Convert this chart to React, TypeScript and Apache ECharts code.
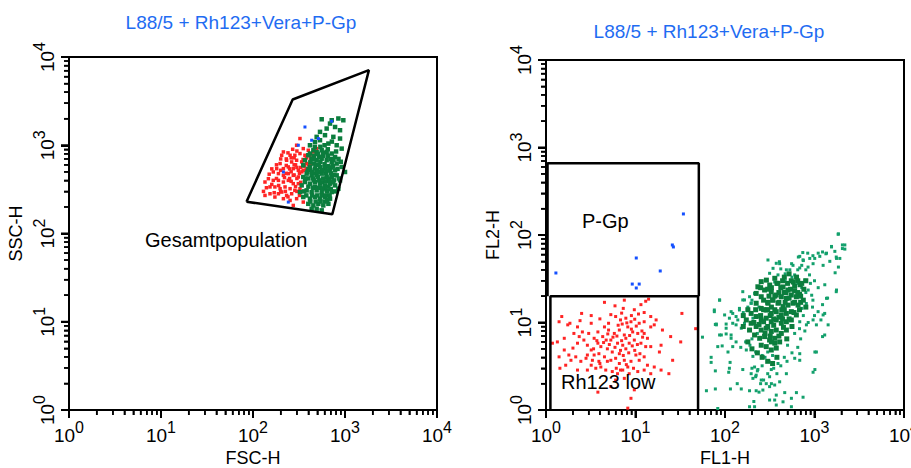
import React, { useEffect, useRef } from "react";
import * as echarts from "echarts";

const FONT = '"Liberation Sans", Arial, Helvetica, sans-serif';

// Titles / axis names / annotations
const panelTitle = "L88/5 + Rh123+Vera+P-Gp";
const leftAxisNames = { x: "FSC-H", y: "SSC-H" };
const rightAxisNames = { x: "FL1-H", y: "FL2-H" };
const gateLabels = { total: "Gesamtpopulation", pgp: "P-Gp", low: "Rh123 low" };

// Axis tick labels (decade exponents) and tick positions
const decadeExponents = ["0", "1", "2", "3", "4"];
const majorTickValues = [1, 10, 100, 1000, 10000];
const minorTickValues = [2, 3, 4, 5, 6, 7, 8, 9, 20, 30, 40, 50, 60, 70, 80, 90, 200, 300, 400, 500, 600, 700, 800, 900, 2000, 3000, 4000, 5000, 6000, 7000, 8000, 9000];

// Left panel: gate polygon (FSC-H, SSC-H)
const leftGate = [[85, 229], [270, 3300], [1820, 7100], [728, 165], [85, 229]];

// Right panel: gate rectangles (FL1-H, FL2-H)
const pgpGate = [[1.04, 20], [1.04, 660], [51, 660], [51, 20]];
const lowGate = [[1.12, 1], [1.12, 20], [50, 20], [50, 1]];

// Left panel events
const leftRed = [
  [324, 1191], [298, 1000], [352, 916], [399, 877], [453, 840], [492, 916], [253, 770], [285, 770], [324, 805], [367, 770],
  [416, 770], [205, 770], [214, 840], [232, 676], [263, 647], [298, 676], [338, 647], [383, 620], [434, 620], [197, 620],
  [181, 543], [214, 543], [242, 568], [274, 543], [311, 520], [352, 520], [166, 498], [189, 477], [214, 456], [242, 477],
  [274, 456], [311, 437], [352, 437], [147, 418], [166, 400], [189, 400], [214, 383], [242, 400], [274, 367], [311, 367],
  [135, 383], [153, 337], [173, 337], [197, 322], [223, 337], [253, 322], [285, 308], [324, 322], [135, 270], [153, 282],
  [173, 259], [205, 295], [232, 270], [263, 282], [298, 248], [253, 237], [274, 208], [352, 227], [214, 248], [189, 282],
  [230, 590], [260, 500], [290, 600], [330, 560], [300, 420], [250, 420], [225, 300], [330, 380], [350, 690], [280, 720],
  [230, 700], [260, 720], [280, 600], [300, 560], [320, 480], [340, 500], [360, 580], [380, 540], [400, 600], [420, 700],
  [380, 720], [300, 860], [270, 900], [240, 820], [200, 700], [180, 600], [160, 540], [150, 470], [160, 360], [190, 350],
  [220, 430], [260, 390], [290, 340], [320, 270], [300, 300], [180, 420], [200, 300], [240, 260], [170, 290], [140, 330],
  [130, 300], [280, 460], [250, 540], [200, 520], [230, 480]
];
const leftGreen = [
  [558, 1970], [717, 1920], [847, 2010], [959, 1920], [687, 1760], [780, 1610], [883, 1480], [632, 1546], [535, 1418], [606, 1300],
  [747, 1245], [883, 1191], [472, 1091], [535, 1140], [660, 1045], [812, 1000], [920, 916], [492, 1245], [416, 1000], [453, 877],
  [399, 770], [367, 676], [352, 593], [492, 840], [558, 877], [632, 840], [717, 805], [780, 737], [434, 705], [492, 676],
  [558, 705], [632, 676], [717, 647], [812, 620], [416, 568], [472, 543], [535, 568], [606, 543], [687, 520], [780, 520],
  [383, 477], [434, 456], [492, 456], [558, 477], [632, 437], [717, 437], [812, 456], [367, 383], [416, 367], [472, 383],
  [535, 367], [606, 351], [687, 367], [780, 351], [383, 308], [434, 295], [492, 308], [558, 295], [632, 308], [717, 295],
  [416, 248], [472, 259], [535, 248], [606, 259], [687, 248], [352, 259], [399, 217], [453, 208], [513, 217], [581, 208],
  [660, 217], [324, 295], [338, 351], [352, 437], [492, 191], [558, 183], [434, 191], [883, 400], [847, 322], [920, 568],
  [1000, 498], [416, 805], [520, 600], [600, 610], [460, 620], [520, 400], [580, 420], [450, 420], [660, 420], [700, 560],
  [560, 520], [500, 520], [620, 480], [470, 480], [420, 520], [540, 330], [470, 340], [600, 330], [660, 340], [760, 400],
  [460, 760], [520, 740], [580, 760], [650, 760], [700, 700], [750, 680], [420, 640], [480, 600], [540, 650], [600, 560],
  [660, 580], [740, 580], [400, 540], [440, 500], [510, 500], [570, 520], [640, 520], [700, 480], [760, 460], [400, 420],
  [460, 400], [510, 440], [560, 380], [620, 390], [680, 400], [740, 380], [400, 340], [450, 330], [510, 330], [570, 320],
  [640, 300], [700, 320], [380, 270], [440, 270], [500, 270], [560, 270], [620, 270], [680, 270], [420, 230], [480, 230],
  [540, 230], [600, 230], [640, 240], [360, 300], [370, 420], [390, 500], [450, 700], [510, 800], [580, 820], [650, 900],
  [720, 1100], [600, 1000], [540, 960], [470, 960], [800, 850], [850, 700], [900, 650], [830, 540], [860, 420], [780, 300]
];
const leftBlue = [[367, 1610], [717, 1870], [434, 1140], [311, 1000], [214, 498], [242, 227], [513, 1191]];

// Right panel events
const rightRed = [
  [4.5, 17], [5.9, 15.5], [7.5, 18], [9.7, 14], [11.5, 16], [13, 17.5], [14, 18.5], [7.3, 14.5], [2.5, 12.7], [3.2, 9.8],
  [1.4, 10.2], [1.5, 11.7], [1.75, 9.4], [1.85, 9.8], [33, 12.7], [47, 8.5], [5.3, 12.3], [6, 11.7], [6.8, 10.7], [7.8, 11.2],
  [8.9, 10.2], [9.8, 10.9], [11, 9.8], [12.5, 10.2], [14.8, 8.9], [16.2, 9.4], [4.5, 8.9], [3.8, 7.8], [5, 8.2], [5.8, 7.5],
  [6.6, 8.2], [7.5, 7.2], [8.2, 8.9], [9.3, 7.8], [10.6, 7.5], [12.5, 7.5], [13.6, 6.6], [4.3, 6.9], [4.7, 6.3], [5.3, 6.3],
  [6.3, 5.8], [7.2, 5.5], [7.8, 5.0], [8.5, 5.8], [9.7, 6.3], [11.5, 5.8], [13, 5.3], [14.8, 5.3], [19.3, 5.5], [18.5, 4.6],
  [24.7, 6.9], [32, 6.0], [26, 3.7], [1.34, 6.0], [1.18, 5.8], [1.6, 4.85], [2.0, 5.1], [2.25, 5.8], [2.35, 6.9], [2.65, 6.3],
  [2.9, 5.5], [3.2, 4.85], [3.45, 4.25], [3.9, 4.4], [4.5, 4.05], [4.85, 3.6], [5.3, 3.7], [6.0, 3.9], [6.6, 3.4], [7.5, 3.7],
  [8.2, 3.1], [8.9, 3.6], [10.1, 4.25], [11, 3.7], [12.5, 4.05], [13.6, 3.25], [16.2, 3.1], [19.3, 2.86], [23.6, 2.6], [1.9, 3.7],
  [2.15, 4.05], [2.45, 3.6], [2.8, 3.9], [3.2, 3.25], [3.6, 3.0], [4.1, 3.1], [4.65, 2.86], [5.5, 2.75], [6.3, 2.6], [7.2, 2.86],
  [1.43, 3.0], [1.66, 3.25], [2.9, 2.86], [7.5, 2.3], [6.0, 2.2], [9.7, 1.7], [8.9, 1.36], [8.2, 1.05], [3.8, 1.6], [5.3, 1.85],
  [2.55, 7.8], [3.0, 7.5], [3.45, 6.6], [3.8, 5.8], [4.1, 5.3], [4.85, 5.0], [5.5, 4.6], [6.6, 4.4], [5.0, 9.8], [14.8, 11.7],
  [17, 10.7], [20, 8.2], [2.05, 7.5], [2.25, 8.9], [1.6, 6.6], [2.9, 4.25], [3.3, 3.7], [3.9, 3.6], [6.8, 2.86], [8.5, 2.6],
  [10.6, 2.75], [12.5, 2.86], [14.8, 2.6], [2.25, 2.86], [1.8, 4.25], [1.4, 4.05], [5.6, 6.8], [6.2, 7.0], [7.0, 6.2], [7.8, 6.6],
  [8.6, 7.1], [9.2, 5.4], [6.8, 4.8], [5.9, 5.2], [7.3, 4.2], [8.4, 4.5], [9.8, 4.8], [10.5, 5.6], [5.1, 5.6], [4.4, 5.9],
  [6.4, 9.3], [7.1, 9.6], [8.0, 9.9], [9.0, 8.4], [10.2, 9.1], [11.8, 8.0], [12.0, 6.8], [11.2, 4.4], [6.1, 3.0], [7.9, 3.3],
  [9.5, 3.0], [4.0, 3.4], [3.4, 5.0], [3.7, 6.2], [4.9, 7.4], [9.0, 12.0], [10.8, 12.5], [7.0, 12.8], [12.5, 13.0], [4.0, 11.0],
  [3.2, 12.0], [2.4, 10.5]
];
const rightGreenCore = [
  [223, 21.5], [254, 19.7], [277, 23.5], [329, 22.5], [374, 20.6], [426, 19.7], [485, 18.9], [551, 20.6], [627, 19.7], [302, 16.6],
  [344, 18.1], [391, 16.6], [445, 15.2], [506, 15.8], [575, 16.6], [655, 15.8], [223, 16.6], [254, 14.5], [289, 13.9], [329, 12.7],
  [374, 13.3], [426, 12.2], [485, 12.7], [551, 13.3], [627, 12.2], [196, 12.7], [223, 11.7], [254, 10.7], [289, 11.2], [329, 10.2],
  [374, 10.7], [426, 9.8], [485, 10.2], [551, 10.7], [173, 10.7], [196, 9.8], [223, 9.0], [254, 8.2], [289, 8.6], [329, 7.9],
  [374, 8.2], [426, 7.5], [485, 8.2], [188, 8.2], [214, 7.2], [244, 6.6], [277, 6.9], [315, 6.3], [359, 6.6], [408, 6.0],
  [289, 5.3], [329, 4.85], [374, 5.1], [254, 5.5], [300, 14], [320, 12], [350, 11], [360, 14], [340, 18], [400, 22],
  [420, 25], [460, 22], [500, 28], [540, 24], [380, 28], [330, 25], [310, 20], [270, 18], [250, 12], [240, 9.5],
  [270, 10.2], [300, 9.0], [320, 7.0], [350, 9.3], [400, 11.5], [430, 14], [470, 17], [520, 19], [600, 23], [680, 21],
  [700, 17], [590, 13], [520, 11], [450, 8.8], [400, 7.0], [360, 5.8], [290, 30.5], [316, 26.8], [360, 32], [390, 28],
  [445, 25.5], [505, 23.5], [580, 29], [630, 33], [690, 27], [233, 25.6], [254, 29.3], [550, 30], [600, 26], [480, 22],
  [440, 30], [650, 22], [700, 20], [250, 25], [220, 14], [210, 10], [280, 7.5], [330, 6], [440, 11], [460, 14],
  [400, 17], [360, 20], [330, 15], [300, 17], [270, 14], [600, 17], [560, 9], [490, 6.5], [180, 6], [200, 5],
  [230, 4.5], [260, 4], [300, 3.6], [340, 3.4], [380, 4], [300, 24], [650, 30], [720, 28], [760, 24], [800, 30],
  [520, 36], [460, 33], [160, 9], [160, 12], [180, 14], [750, 18], [800, 15], [680, 14]
];
const rightGreenSparse = [
  [1850, 103], [2050, 77], [2050, 70], [1550, 73], [1230, 64], [1340, 61], [1100, 62], [960, 58], [840, 62], [740, 63],
  [660, 56], [750, 51], [1750, 56], [1850, 43], [1700, 37], [1750, 22.5], [1400, 19], [1230, 16], [1300, 12.7], [1180, 10.7],
  [1050, 9.4], [1300, 7.2], [1230, 6.9], [1010, 4.6], [1010, 2.9], [405, 49.5], [420, 41], [530, 40], [555, 47], [470, 36],
  [780, 30.5], [850, 23.5], [930, 20.5], [960, 18], [810, 16.5], [720, 14.5], [315, 36.5], [344, 41.6], [374, 47.5], [302, 51.8],
  [300, 4.6], [280, 4.0], [340, 4.2], [310, 3.6], [260, 3.2], [230, 2.8], [200, 3.0], [220, 2.4], [270, 2.2], [250, 2.0],
  [300, 2.6], [350, 3.0], [330, 2.0], [240, 1.6], [210, 1.25], [56, 6.8], [78, 9.5], [103, 9.6], [87, 7.2], [103, 7.4],
  [93, 5.4], [117, 6.6], [122, 5.3], [70, 4.0], [70, 3.5], [78, 2.8], [114, 3.5], [112, 3.0], [110, 2.7], [62, 1.66],
  [78, 1.74], [115, 1.74], [152, 1.74], [137, 2.0], [188, 1.66], [223, 1.66], [265, 1.69], [158, 2.9], [205, 2.3], [223, 2.5],
  [254, 2.2], [289, 2.0], [315, 1.85], [359, 1.93], [408, 2.1], [196, 2.6], [233, 2.9], [214, 3.1], [329, 2.9], [391, 3.4],
  [485, 2.6], [493, 3.6], [601, 3.9], [684, 3.7], [684, 4.4], [1050, 4.6], [964, 2.7], [465, 1.58], [628, 1.58], [745, 1.4],
  [552, 1.36], [445, 1.24], [374, 1.48], [315, 1.3], [359, 1.3], [315, 2.4], [83, 1.04], [188, 1.09], [214, 1.09], [374, 1.14],
  [552, 1.09], [87, 18], [76, 13.9], [80, 9.6], [117, 13.3], [91, 7.2], [117, 7.2], [158, 22.5], [165, 18.1], [145, 14.5],
  [133, 11.7], [122, 9.8], [152, 8.6], [133, 6.0], [173, 4.85], [205, 4.1], [108, 4.6], [83, 5.3], [139, 10.7], [181, 13.9],
  [196, 16.6], [1838, 102], [2183, 77], [2183, 69], [1548, 74], [1688, 65], [1361, 62], [1146, 57], [1006, 54], [885, 54],
  [745, 52], [684, 57], [1762, 54], [1919, 54], [1483, 50], [1248, 45], [964, 47], [847, 43], [684, 42], [575, 45],
  [485, 40], [408, 47], [391, 35], [359, 29], [315, 27], [277, 23.5], [233, 25], [214, 21.5], [188, 19.7], [158, 18.1],
  [196, 16.6], [145, 13.9], [122, 12.7], [87, 18.1], [76, 13.3], [99, 12.2], [112, 11.2], [80, 9.4], [103, 8.6], [133, 9.4],
  [165, 9.8], [205, 11.2], [1303, 27], [1361, 18.9], [1762, 23.5], [1097, 13.3], [1248, 12.2], [1420, 9.4], [964, 10.7], [812, 9.4],
  [684, 10.2], [600, 35], [650, 40], [720, 45], [800, 40], [880, 35], [900, 28], [1000, 30], [1100, 25], [950, 15],
  [1000, 12], [850, 10], [780, 8], [700, 6.5], [650, 5.2], [560, 4.5], [500, 5.5], [460, 4.0], [420, 3.2], [380, 2.6],
  [600, 7.5], [680, 8.5], [750, 12], [800, 22], [720, 25], [650, 28], [560, 33], [470, 30], [180, 15], [160, 13],
  [200, 18], [240, 15], [230, 7.5], [200, 6.5], [170, 6], [150, 5.2], [260, 4.2], [220, 4.6], [190, 5.5]
];
const rightBlue = [[34.3, 174], [25.8, 76.9], [26.5, 73], [10.2, 54.6], [1.29, 36.8], [18.9, 38.8], [9.2, 27.5], [11.0, 27.5], [10.2, 24.8]];

const RED = "#ff2424";
const GREEN_DARK = "#0b7d3d";
const GREEN = "#13a06c";
const BLUE = "#1450ff";
const TITLE_BLUE = "#1f6cf2";

const tickLabel = (v: number) => {
  const e = decadeExponents[Math.round(Math.log10(v))] ?? "";
  return `{b|10}{s|${e}}`;
};
const rich = {
  b: { fontSize: 19, fontFamily: FONT, color: "#000", lineHeight: 32 },
  s: { fontSize: 16, fontFamily: FONT, color: "#000", lineHeight: 16, verticalAlign: "top" },
};

function makeAxis(kind: "x" | "y", gridIndex: number, name: string) {
  const isX = kind === "x";
  return {
    type: "log",
    gridIndex,
    min: 1,
    max: 10000,
    name,
    nameLocation: "middle",
    nameGap: isX ? 34 : 44,
    nameTextStyle: { fontSize: 18, fontFamily: FONT, color: "#000" },
    axisLine: { show: true, lineStyle: { color: "#000", width: 2 } },
    axisTick: { show: true, length: 8, lineStyle: { color: "#000", width: 2 } },
    minorTick: { show: true, splitNumber: 9, length: 5, lineStyle: { color: "#000", width: 1.5 } },
    splitLine: { show: false },
    axisLabel: {
      formatter: tickLabel,
      rich,
      margin: isX ? 9 : 6,
      rotate: isX ? 0 : 90,
      showMinLabel: true,
      showMaxLabel: true,
      hideOverlap: false,
    },
  };
}

function scatter(data: number[][], idx: number, color: string, size: number, z = 3) {
  return {
    type: "scatter",
    xAxisIndex: idx,
    yAxisIndex: idx,
    data,
    symbol: "rect",
    symbolSize: size,
    itemStyle: { color, opacity: 1 },
    silent: true,
    z,
  };
}

function gateLine(data: number[][], idx: number) {
  return {
    type: "line",
    xAxisIndex: idx,
    yAxisIndex: idx,
    data,
    symbol: "none",
    lineStyle: { color: "#000", width: 2.5 },
    silent: true,
    z: 6,
  };
}

// Tick marks drawn outside the plot frame at the axes' own log positions
function tickSeries(idx: number, values: number[], len: number, width: number, onX: boolean) {
  return {
    type: "custom",
    coordinateSystem: "cartesian2d",
    xAxisIndex: idx,
    yAxisIndex: idx,
    clip: false,
    silent: true,
    z: 12,
    data: values.map((v) => (onX ? [v, 1] : [1, v])),
    renderItem: (_p: any, api: any) => {
      const pt = api.coord([api.value(0), api.value(1)]);
      const shape = onX
        ? { x1: pt[0], y1: pt[1], x2: pt[0], y2: pt[1] + len }
        : { x1: pt[0] - len, y1: pt[1], x2: pt[0], y2: pt[1] };
      return { type: "line", shape, style: { stroke: "#000", lineWidth: width } };
    },
  };
}

function allTicks(idx: number) {
  return [
    tickSeries(idx, majorTickValues, 8, 2, true),
    tickSeries(idx, minorTickValues, 5, 1.5, true),
    tickSeries(idx, majorTickValues, 8, 2, false),
    tickSeries(idx, minorTickValues, 5, 1.5, false),
  ];
}

function textEl(text: string, x: number, y: number, size: number, color: string, align = "left") {
  return {
    type: "text",
    x,
    y,
    silent: true,
    z: 20,
    style: {
      text,
      fill: color,
      font: `${size}px ${FONT}`,
      fontSize: size,
      fontFamily: FONT,
      align,
      textAlign: align,
      verticalAlign: "middle",
      textVerticalAlign: "middle",
    },
  };
}

export default function App() {
  const ref = useRef<HTMLDivElement>(null);
  useEffect(() => {
    if (!ref.current) return;
    const chart = echarts.init(ref.current, undefined, { renderer: "svg" });
    chart.setOption({
      animation: false,
      backgroundColor: "#fff",
      grid: [
        { left: 69, top: 57, width: 368, height: 353, show: true, borderColor: "#000", borderWidth: 2, outerBoundsMode: "none", containLabel: false },
        { left: 546, top: 60, width: 358, height: 350, show: true, borderColor: "#000", borderWidth: 2, outerBoundsMode: "none", containLabel: false },
      ],
      xAxis: [makeAxis("x", 0, leftAxisNames.x), makeAxis("x", 1, rightAxisNames.x)],
      yAxis: [makeAxis("y", 0, leftAxisNames.y), makeAxis("y", 1, rightAxisNames.y)],
      series: [
        scatter(leftRed, 0, RED, 3.5, 3),
        scatter(leftGreen, 0, GREEN_DARK, 4.5, 4),
        scatter(leftBlue, 0, BLUE, 3, 5),
        gateLine(leftGate, 0),
        ...allTicks(0),
        scatter(rightRed, 1, RED, 3, 3),
        scatter(rightGreenSparse, 1, GREEN, 3, 3),
        scatter(rightGreenCore, 1, GREEN_DARK, 5, 4),
        scatter(rightBlue, 1, BLUE, 3, 5),
        gateLine(pgpGate, 1),
        gateLine(lowGate, 1),
        ...allTicks(1),
      ],
      graphic: [
        textEl(panelTitle, 241, 22, 19, TITLE_BLUE, "center"),
        textEl(panelTitle, 709, 31, 19, TITLE_BLUE, "center"),
        textEl(gateLabels.total, 145, 240, 20, "#000"),
        textEl(gateLabels.pgp, 582, 221, 20, "#000"),
        textEl(gateLabels.low, 561, 382, 20, "#000"),
      ],
    });
    return () => chart.dispose();
  }, []);
  return <div ref={ref} style={{ position: "fixed", left: 0, top: 0, width: 911, height: 468, background: "#fff" }} />;
}
